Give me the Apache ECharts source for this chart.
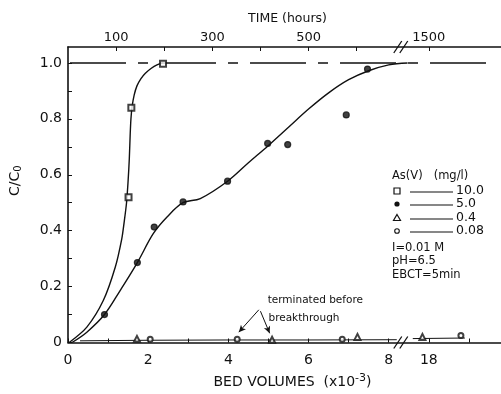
<!DOCTYPE html>
<html><head><meta charset="utf-8">
<script src="https://cdn.jsdelivr.net/npm/echarts@6/dist/echarts.min.js"></script>
<style>html,body{margin:0;padding:0;background:#fff}#c{width:501px;height:394px}</style>
</head><body><div id="c"></div>
<script>
// ---------- data (bed volumes x10^-3, C/C0) ----------
const bedTickValues = [0, 2, 4, 6, 8, 18];
const bedMinorTicks = [0, 1, 2, 3, 4, 5, 6, 7, 8, 18, 19];
const timeTickHours = [100, 300, 500, 1500];
const timeMinorHours = [100, 200, 300, 400, 500, 600, 1500];
const yLabelValues = [0, 0.2, 0.4, 0.6, 0.8, 1.0];
const yTickValues = [0, 0.1, 0.2, 0.3, 0.4, 0.5, 0.6, 0.7, 0.8, 0.9, 1.0];

const as10X = [1.51, 1.58, 2.37];
const as10Y = [0.52, 0.84, 0.997];
const as10CurveX = [0.03, 0.47, 0.88, 1.18, 1.34, 1.40, 1.46, 1.50, 1.53, 1.55, 1.57, 1.60, 1.65, 1.72, 1.82, 1.93, 2.07, 2.22, 2.37];
const as10CurveY = [0, 0.055, 0.15, 0.27, 0.37, 0.43, 0.50, 0.58, 0.66, 0.74, 0.80, 0.845, 0.885, 0.918, 0.944, 0.963, 0.98, 0.993, 1.0];

const as5X = [0.91, 1.73, 2.15, 2.87, 3.98, 4.98, 5.48, 6.94, 7.47];
const as5Y = [0.10, 0.286, 0.413, 0.503, 0.577, 0.712, 0.708, 0.814, 0.978];
const as5CurveX = [0.1, 0.47, 0.91, 1.3, 1.73, 2.13, 2.47, 2.87, 3.3, 3.98, 4.5, 5.0, 5.5, 6.0, 6.5, 7.0, 7.5, 8.0, 8.47];
const as5CurveY = [0, 0.037, 0.10, 0.186, 0.286, 0.39, 0.449, 0.50, 0.515, 0.577, 0.643, 0.705, 0.77, 0.835, 0.893, 0.94, 0.972, 0.993, 1.0];

const as04X = [1.72, 5.09, 7.22, 17.84];
const as04Y = [0.013, 0.01, 0.02, 0.02];
const as008X = [2.05, 4.22, 6.84, 18.8];
const as008Y = [0.012, 0.012, 0.012, 0.025];
const lowLeftX = [0.3, 2, 4, 6, 8.2];
const lowLeftY = [0.006, 0.008, 0.009, 0.009, 0.01];
const lowRightX = [17.6, 18.9];
const lowRightY = [0.014, 0.016];
const plateauX = [0.05, 19.5];
const plateauY = [1.0, 1.0];

const legendTitle = 'As(V)   (mg/l)';
const legendNames = ['10.0', '5.0', '0.4', '0.08'];
const conditions = ['I=0.01 M', 'pH=6.5', 'EBCT=5min'];
const noteLines = ['terminated before', 'breakthrough'];
const arrowFrom = [[4.76, 0.117], [4.80, 0.112]];
const arrowTo = [[4.26, 0.037], [5.03, 0.033]];

// ---------- broken axis mapping ----------
const BREAK_FROM = 8.5, BREAK_POS = 9, BREAK_VAL = 18, BV_PER_HOUR = 0.012;
function bx(v) { return v <= BREAK_FROM ? v : BREAK_POS + (v - BREAK_VAL); }
function ibx(p) { return p <= BREAK_FROM ? p : p - BREAK_POS + BREAK_VAL; }
const pairs = (xs, ys) => xs.map((x, i) => [bx(x), ys[i]]);

const FONT = 'DejaVu Sans';
const BLACK = '#111';
const chart = echarts.init(document.getElementById('c'));

const lineBase = { type: 'line', smooth: 0.35, showSymbol: false, silent: true,
  lineStyle: { color: BLACK, width: 1.4 }, z: 3 };
const scatterBase = { type: 'scatter', silent: true,
  itemStyle: { color: BLACK, borderColor: BLACK, borderWidth: 1.2 }, z: 5 };

chart.setOption({
  animation: false,
  backgroundColor: '#fff',
  textStyle: { fontFamily: FONT, color: BLACK },
  grid: { left: 66, right: 0, top: 47, bottom: 51 },
  xAxis: [{
    type: 'value', min: 0, max: 10.8, position: 'bottom',
    axisLine: { lineStyle: { color: BLACK, width: 1.6 } },
    axisTick: { inside: true, length: 4, customValues: bedMinorTicks.map(bx), lineStyle: { color: BLACK } },
    axisLabel: { customValues: bedTickValues.map(bx), formatter: p => String(Math.round(ibx(p))),
      fontSize: 14, color: BLACK, margin: 11, fontFamily: FONT },
    splitLine: { show: false },
    name: 'BED VOLUMES  (x10{sup|-3})', nameLocation: 'middle', nameGap: 30,
    nameTextStyle: { fontSize: 14, color: BLACK, fontFamily: FONT, padding: [0, 0, 0, 16],
      rich: { sup: { fontSize: 11, verticalAlign: 'top', padding: [0, 0, 8, 0], fontFamily: FONT, color: BLACK } } }
  }, {
    type: 'value', min: 0, max: 10.8, position: 'top',
    axisLine: { lineStyle: { color: BLACK, width: 1.6 } },
    axisTick: { inside: true, length: 4, customValues: timeMinorHours.map(h => bx(h * BV_PER_HOUR)), lineStyle: { color: BLACK } },
    axisLabel: { customValues: timeTickHours.map(h => bx(h * BV_PER_HOUR)),
      formatter: p => String(Math.round(ibx(p) / BV_PER_HOUR)),
      fontSize: 13, color: BLACK, margin: 3, fontFamily: FONT },
    splitLine: { show: false },
    name: 'TIME (hours)', nameLocation: 'middle', nameGap: 22,
    nameTextStyle: { fontSize: 12.5, color: BLACK, fontFamily: FONT, padding: [0, 0, 0, 6] }
  }],
  yAxis: {
    type: 'value', min: 0, max: 1.057,
    axisLine: { show: true, lineStyle: { color: BLACK, width: 1.6 } },
    axisTick: { show: true, inside: true, length: 4, customValues: yTickValues, lineStyle: { color: BLACK } },
    axisLabel: { customValues: yLabelValues, formatter: v => v === 0 ? '0' : v.toFixed(1),
      fontSize: 14, color: BLACK, margin: 6, fontFamily: FONT },
    splitLine: { show: false },
    name: 'C/C{sub|0}', nameLocation: 'middle', nameRotate: 90, nameGap: 45,
    nameTextStyle: { fontSize: 14, color: BLACK, fontFamily: FONT, padding: [0, 0, 0, 28],
      rich: { sub: { fontSize: 10, verticalAlign: 'bottom', padding: [6, 0, 0, 0], fontFamily: FONT, color: BLACK } } }
  },
  series: [
    Object.assign({}, lineBase, { name: 'plateau', data: pairs(plateauX, plateauY), smooth: false,
      lineStyle: { color: BLACK, width: 1.5, type: [56, 12, 10, 12] }, z: 2 }),
    Object.assign({}, lineBase, { name: 'curve10', data: pairs(as10CurveX, as10CurveY), smooth: 0.3 }),
    Object.assign({}, lineBase, { name: 'curve5', data: pairs(as5CurveX, as5CurveY) }),
    Object.assign({}, lineBase, { name: 'lowL', data: pairs(lowLeftX, lowLeftY), smooth: false, lineStyle: { color: BLACK, width: 1 } }),
    Object.assign({}, lineBase, { name: 'lowR', data: pairs(lowRightX, lowRightY), smooth: false, lineStyle: { color: BLACK, width: 1 } }),
    Object.assign({}, scatterBase, { name: '10.0', symbol: 'emptyRect', symbolSize: 6, data: pairs(as10X, as10Y) }),
    Object.assign({}, scatterBase, { name: '5.0', symbol: 'circle', symbolSize: 6, data: pairs(as5X, as5Y) }),
    Object.assign({}, scatterBase, { name: '0.4', symbol: 'emptyTriangle', symbolSize: 6, data: pairs(as04X, as04Y) }),
    Object.assign({}, scatterBase, { name: '0.08', symbol: 'emptyCircle', symbolSize: 5, data: pairs(as008X, as008Y),
      markLine: { silent: true, symbol: ['none', 'arrow'], symbolSize: [5, 7], label: { show: false },
        lineStyle: { color: BLACK, width: 1, type: 'solid', curveness: 0.12 },
        data: arrowFrom.map((f, i) => [{ coord: [bx(f[0]), f[1]] }, { coord: [bx(arrowTo[i][0]), arrowTo[i][1]] }]) } })
  ]
});

// ---------- decorations positioned from data coordinates ----------
const toPx = (x, y) => chart.convertToPixel({ xAxisIndex: 0, yAxisIndex: 0 }, [x, y]);
const g = [];
// axis break marks
const yTop = 1.057;
[[8.3, 0], [8.3, yTop]].forEach(([p, y]) => {
  const c = toPx(p, y);
  [-3, 3].forEach(dx => g.push({ type: 'line', shape: { x1: c[0] + dx - 4, y1: c[1] + 6, x2: c[0] + dx + 4, y2: c[1] - 6 },
    style: { stroke: BLACK, lineWidth: 1.3 }, z: 10 }));
});
// annotation text
const n0 = toPx(4.98, 0.152), n1 = toPx(5.0, 0.088);
g.push({ type: 'text', x: n0[0], y: n0[1], style: { text: noteLines[0], font: '10.5px "DejaVu Sans"', fill: BLACK, textVerticalAlign: 'middle' }, z: 10 });
g.push({ type: 'text', x: n1[0], y: n1[1], style: { text: noteLines[1], font: '10.5px "DejaVu Sans"', fill: BLACK, textVerticalAlign: 'middle' }, z: 10 });
// legend
const LX = 392, L0 = 176, rows = [191, 204, 218, 231];
g.push({ type: 'text', x: LX, y: L0, style: { text: legendTitle, font: '11.5px "DejaVu Sans"', fill: BLACK, textVerticalAlign: 'middle' } });
rows.forEach((ry, i) => {
  const mx = 397;
  if (i === 0) g.push({ type: 'rect', shape: { x: mx - 3, y: ry - 3, width: 6, height: 6 }, style: { fill: '#fff', stroke: BLACK, lineWidth: 1.2 } });
  if (i === 1) g.push({ type: 'circle', shape: { cx: mx, cy: ry, r: 2.6 }, style: { fill: BLACK } });
  if (i === 2) g.push({ type: 'polygon', shape: { points: [[mx, ry - 3.5], [mx + 3.5, ry + 2.5], [mx - 3.5, ry + 2.5]] }, style: { fill: '#fff', stroke: BLACK, lineWidth: 1.2 } });
  if (i === 3) g.push({ type: 'circle', shape: { cx: mx, cy: ry, r: 2.3 }, style: { fill: '#fff', stroke: BLACK, lineWidth: 1.1 } });
  g.push({ type: 'line', shape: { x1: 410, y1: ry + 1, x2: 453, y2: ry + 1 }, style: { stroke: BLACK, lineWidth: 1.2 } });
  g.push({ type: 'text', x: 456, y: ry, style: { text: legendNames[i], font: '12.5px "DejaVu Sans"', fill: BLACK, textVerticalAlign: 'middle' } });
});
[248, 261, 275].forEach((ry, i) => g.push({ type: 'text', x: LX, y: ry,
  style: { text: conditions[i], font: '11.5px "DejaVu Sans"', fill: BLACK, textVerticalAlign: 'middle' } }));
chart.setOption({ graphic: g });
</script></body></html>
